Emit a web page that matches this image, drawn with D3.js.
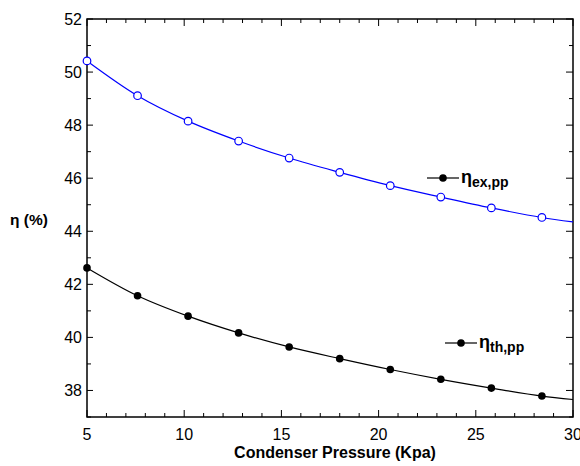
<!DOCTYPE html>
<html>
<head>
<meta charset="utf-8">
<script src="https://cdn.jsdelivr.net/npm/d3@7"></script>
<style>
  body { margin: 0; background: #fff; }
  text { font-family: "Liberation Sans", Arial, sans-serif; }
</style>
</head>
<body>
<div id="chart"></div>
<script>
/* DATA */
const pressure = [5, 7.6, 10.2, 12.8, 15.4, 18.0, 20.6, 23.2, 25.8, 28.4];
const etaEx = [50.42, 49.11, 48.15, 47.40, 46.76, 46.22, 45.72, 45.29, 44.88, 44.52];
const etaTh = [42.62, 41.57, 40.80, 40.17, 39.64, 39.20, 38.79, 38.42, 38.09, 37.79];
// curve end values at x = 30
const lineEndX = 30;
const etaExEnd = 44.35;
const etaThEnd = 37.66;
const xTicks = [5, 10, 15, 20, 25, 30];
const yTicks = [38, 40, 42, 44, 46, 48, 50, 52];

/* LAYOUT */
const width = 580, height = 466;
const margin = { top: 19, right: 7, bottom: 49, left: 87 };

const svg = d3.select("#chart").append("svg")
  .attr("width", width)
  .attr("height", height);

const x = d3.scaleLinear().domain([5, 30]).range([margin.left, width - margin.right]);
const y = d3.scaleLinear().domain([37, 52]).range([height - margin.bottom, margin.top]);

// frame
svg.append("rect")
  .attr("x", x(5)).attr("y", y(52))
  .attr("width", x(30) - x(5)).attr("height", y(37) - y(52))
  .attr("fill", "none").attr("stroke", "#000").attr("stroke-width", 1.5);

// bottom axis: ticks point up (inside)
const minorX = d3.range(6, 30, 1).filter(d => d % 5 !== 0);
const bottomAxis = svg.append("g");
bottomAxis.selectAll("line.maj").data(xTicks).join("line")
  .attr("x1", d => x(d)).attr("x2", d => x(d))
  .attr("y1", y(37)).attr("y2", y(37) - 7)
  .attr("stroke", "#000");
bottomAxis.selectAll("line.min").data(minorX).join("line")
  .attr("x1", d => x(d)).attr("x2", d => x(d))
  .attr("y1", y(37)).attr("y2", y(37) - 4)
  .attr("stroke", "#000");
bottomAxis.selectAll("text").data(xTicks).join("text")
  .attr("x", d => x(d)).attr("y", y(37) + 23)
  .attr("text-anchor", "middle")
  .attr("font-size", 16)
  .text(d => d);

// top axis: ticks point down
const topAxis = svg.append("g");
topAxis.selectAll("line.maj").data(xTicks).join("line")
  .attr("x1", d => x(d)).attr("x2", d => x(d))
  .attr("y1", y(52)).attr("y2", y(52) + 7)
  .attr("stroke", "#000");
topAxis.selectAll("line.min").data(minorX).join("line")
  .attr("x1", d => x(d)).attr("x2", d => x(d))
  .attr("y1", y(52)).attr("y2", y(52) + 4)
  .attr("stroke", "#000");

// left & right axes, ticks inside
const minorY = d3.range(37, 52, 1).filter(d => d % 2 !== 0);
const leftAxis = svg.append("g");
leftAxis.selectAll("line.maj").data(yTicks).join("line")
  .attr("x1", x(5)).attr("x2", x(5) + 6)
  .attr("y1", d => y(d)).attr("y2", d => y(d))
  .attr("stroke", "#000");
leftAxis.selectAll("line.min").data(minorY).join("line")
  .attr("x1", x(5)).attr("x2", x(5) + 4)
  .attr("y1", d => y(d)).attr("y2", d => y(d))
  .attr("stroke", "#000");
leftAxis.selectAll("text").data(yTicks).join("text")
  .attr("x", x(5) - 5).attr("y", d => y(d) + 6)
  .attr("text-anchor", "end")
  .attr("font-size", 16)
  .text(d => d);

const rightAxis = svg.append("g");
rightAxis.selectAll("line.maj").data(yTicks).join("line")
  .attr("x1", x(30) - 7).attr("x2", x(30))
  .attr("y1", d => y(d)).attr("y2", d => y(d))
  .attr("stroke", "#000");
rightAxis.selectAll("line.min").data(minorY).join("line")
  .attr("x1", x(30) - 4).attr("x2", x(30))
  .attr("y1", d => y(d)).attr("y2", d => y(d))
  .attr("stroke", "#000");

// axis titles
svg.append("text")
  .attr("x", 335).attr("y", 458)
  .attr("text-anchor", "middle")
  .attr("font-size", 16).attr("font-weight", "bold")
  .text("Condenser Pressure (Kpa)");
svg.append("text")
  .attr("x", 10).attr("y", 225)
  .attr("font-size", 15.5).attr("font-weight", "bold")
  .text("η (%)");

/* SERIES */
const line = d3.line()
  .x(d => x(d[0])).y(d => y(d[1]))
  .curve(d3.curveMonotoneX);

const exPts = pressure.map((p, i) => [p, etaEx[i]]);
const thPts = pressure.map((p, i) => [p, etaTh[i]]);

svg.append("path")
  .datum(exPts.concat([[lineEndX, etaExEnd]]))
  .attr("d", line).attr("fill", "none").attr("stroke", "#0000ff").attr("stroke-width", 1.2);
svg.append("path")
  .datum(thPts.concat([[lineEndX, etaThEnd]]))
  .attr("d", line).attr("fill", "none").attr("stroke", "#000").attr("stroke-width", 1.2);

svg.selectAll("circle.ex").data(exPts).join("circle")
  .attr("class", "ex")
  .attr("cx", d => x(d[0])).attr("cy", d => y(d[1])).attr("r", 3.8)
  .attr("fill", "#fff").attr("stroke", "#0000ff").attr("stroke-width", 1.2);
svg.selectAll("circle.th").data(thPts).join("circle")
  .attr("class", "th")
  .attr("cx", d => x(d[0])).attr("cy", d => y(d[1])).attr("r", 3.8)
  .attr("fill", "#000");

/* LEGEND LABELS */
function legend(lx, ly, sub) {
  const g = svg.append("g");
  g.append("line").attr("x1", lx).attr("x2", lx + 32).attr("y1", ly).attr("y2", ly)
    .attr("stroke", "#000").attr("stroke-width", 1.2);
  g.append("circle").attr("cx", lx + 16).attr("cy", ly).attr("r", 3.8).attr("fill", "#000");
  const t = g.append("text").attr("x", lx + 34).attr("y", ly + 5)
    .attr("font-size", 18).attr("font-weight", "bold");
  t.append("tspan").text("η");
  t.append("tspan").attr("dy", 4).attr("font-size", 14).text(sub);
}
legend(427, 178, "ex,pp");
legend(445, 343, "th,pp");
</script>
</body>
</html>
